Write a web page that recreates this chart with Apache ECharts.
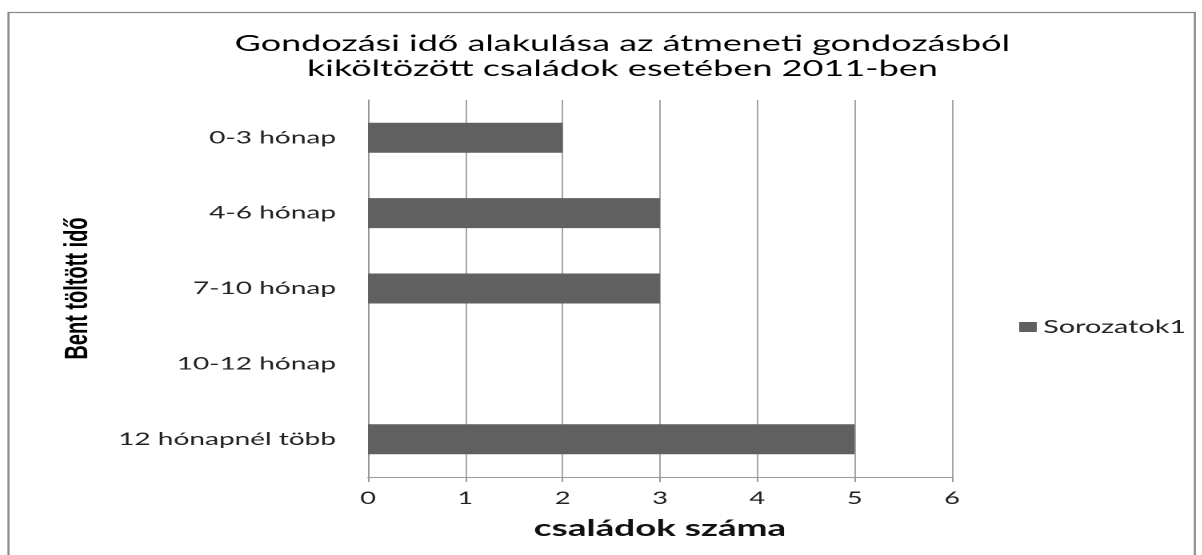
<!DOCTYPE html>
<html><head><meta charset="utf-8">
<script src="https://cdn.jsdelivr.net/npm/echarts@6/dist/echarts.min.js"></script>
<style>
html,body{margin:0;padding:0;background:#fff;overflow:hidden}
#c{width:751px;height:555px;transform:scaleX(1.6);transform-origin:0 0}
</style>
</head><body><div id="c"></div>
<script>
const categories = ['0-3 hónap', '4-6 hónap', '7-10 hónap', '10-12 hónap', '12 hónapnél több'];
const seriesName = 'Sorozatok1';
const values = [2, 3, 3, 0, 5];
const xTicks = [0, 1, 2, 3, 4, 5, 6];

// The reference is a horizontally stretched chart: draw at 751px wide and stretch by 1.6.
const chart = echarts.init(document.getElementById('c'), null, {renderer: 'canvas', devicePixelRatio: 2, width: 751, height: 555});
chart.setOption({
  animation: false,
  backgroundColor: '#fff',
  title: {
    text: 'Gondozási idő alakulása az átmeneti gondozásból\nkiköltözött családok esetében 2011-ben',
    left: 384, top: 26, textAlign: 'center',
    textStyle: {fontFamily: 'Lato, sans-serif', fontSize: 22.5, fontWeight: 'normal', color: '#000', lineHeight: 25}
  },
  legend: {
    data: [seriesName], left: 632, top: 313, orient: 'vertical',
    itemWidth: 11, itemHeight: 10, icon: 'rect', itemGap: 6,
    textStyle: {fontFamily: 'Lato, sans-serif', fontSize: 18, color: '#222', padding: [0, 0, 0, -1]}
  },
  graphic: [{
    type: 'rect', shape: {x: 5.3, y: 12.5, width: 741.5, height: 560},
    style: {fill: 'none', stroke: '#8a8a8a', lineWidth: 1.3}, silent: true, z: -1
  }],
  grid: {left: 230, right: 156, top: 100, bottom: 78, containLabel: false},
  xAxis: {
    type: 'value', min: 0, max: 6, interval: 1,
    name: 'családok száma', nameLocation: 'middle', nameGap: 40,
    nameTextStyle: {fontFamily: 'Lato, sans-serif', fontSize: 23, fontWeight: 'bold', color: '#111'},
    axisLine: {show: true, lineStyle: {color: '#999', width: 1}},
    axisTick: {show: true, length: 5, lineStyle: {color: '#999'}},
    axisLabel: {margin: 13, fontFamily: 'Lato, sans-serif', fontSize: 17, color: '#222',
      formatter: v => String(xTicks[Math.round(v)])},
    splitLine: {show: true, lineStyle: {color: '#a6a6a6', width: 1}}
  },
  yAxis: {
    type: 'category', data: categories, inverse: true,
    name: 'Bent töltött idő', nameLocation: 'middle', nameGap: 171, nameRotate: 90,
    nameTextStyle: {fontFamily: '"Liberation Sans", sans-serif', fontSize: 20, fontWeight: 'bold', color: '#000'},
    axisLine: {show: true, lineStyle: {color: '#999', width: 1}},
    axisTick: {show: false},
    axisLabel: {margin: 20, fontFamily: 'Lato, sans-serif', fontSize: 17.5, color: '#222'},
    splitLine: {show: false}
  },
  series: [{
    name: seriesName, type: 'bar', data: values, barWidth: 30,
    itemStyle: {color: '#606060'}
  }]
});
</script></body></html>
